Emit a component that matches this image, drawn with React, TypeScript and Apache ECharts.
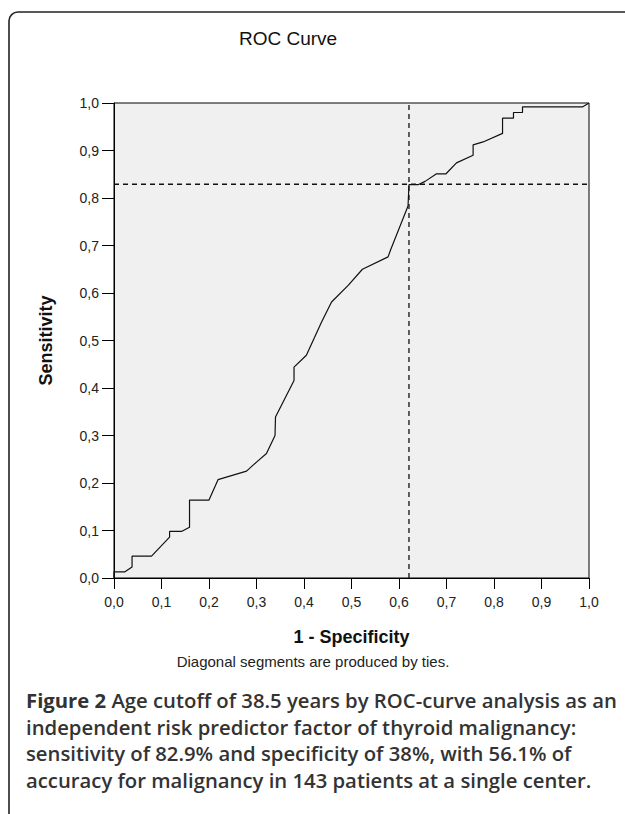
import React, { useEffect, useRef } from "react";
import * as echarts from "echarts";

// ROC curve points: [1 - specificity, sensitivity]
const fpr: number[] = [0, 0, 0.023, 0.038, 0.038, 0.079, 0.117, 0.117, 0.142, 0.159, 0.159, 0.2, 0.219, 0.279, 0.3, 0.321, 0.339, 0.34, 0.379, 0.379, 0.405, 0.437, 0.458, 0.493, 0.523, 0.577, 0.582, 0.619, 0.621, 0.64, 0.655, 0.679, 0.699, 0.721, 0.756, 0.756, 0.777, 0.818, 0.818, 0.841, 0.841, 0.86, 0.86, 0.987, 1.0];
const tpr: number[] = [0, 0.013, 0.013, 0.023, 0.046, 0.046, 0.086, 0.098, 0.098, 0.107, 0.164, 0.164, 0.207, 0.225, 0.244, 0.262, 0.3, 0.339, 0.416, 0.444, 0.469, 0.539, 0.581, 0.616, 0.65, 0.676, 0.69, 0.783, 0.828, 0.828, 0.835, 0.851, 0.851, 0.874, 0.89, 0.912, 0.918, 0.936, 0.968, 0.968, 0.98, 0.98, 0.992, 0.992, 1.0];

const cutoffX = 0.621;
const cutoffY = 0.829;

const titleText = "ROC Curve";
const xName = "1 - Specificity";
const yName = "Sensitivity";
const noteText = "Diagonal segments are produced by ties.";
const captionBold = "Figure 2";
const captionLines: string[] = [
  " Age cutoff of 38.5 years by ROC-curve analysis as an",
  "independent risk predictor factor of thyroid malignancy:",
  "sensitivity of 82.9% and specificity of 38%, with 56.1% of",
  "accuracy for malignancy in 143 patients at a single center.",
];

const fmt = (v: number) => v.toFixed(1).replace(".", ",");

export default function App() {
  const ref = useRef<HTMLDivElement>(null);
  useEffect(() => {
    if (!ref.current) return;
    const chart = echarts.init(ref.current, undefined, { renderer: "svg" });
    const curve = fpr.map((x, i) => [x, tpr[i]]);
    const captionTop = 700;
    const lineH = 26.7;
    const capFont = 20.3;
    const captionGraphics: any[] = captionLines.map((line, i) => ({
      type: "text",
      x: 26,
      y: captionTop + i * lineH,
      style: i === 0
        ? {
            text: "{b|" + captionBold + "}{n|" + line + "}",
            textVerticalAlign: "middle",
            rich: {
              b: { fontFamily: "Open Sans", fontSize: capFont, fontWeight: 700, fill: "#333" },
              n: { fontFamily: "Open Sans", fontSize: capFont, fontWeight: 600, fill: "#333" },
            },
          }
        : { text: line, fontFamily: "Open Sans", fontSize: capFont, fontWeight: 600, fill: "#333", textVerticalAlign: "middle" },
    }));
    chart.setOption({
      animation: false,
      backgroundColor: "#ffffff",
      grid: {
        left: 114,
        top: 103,
        width: 475,
        height: 475,
        show: true,
        backgroundColor: "#f0f0f0",
        borderColor: "#000",
        borderWidth: 1,
      },
      xAxis: {
        type: "value",
        min: 0,
        max: 1,
        interval: 0.1,
        name: xName,
        nameLocation: "middle",
        nameGap: 50,
        nameTextStyle: { fontFamily: "Liberation Sans", fontSize: 18, fontWeight: "bold", color: "#111" },
        axisLine: { lineStyle: { color: "#000", width: 1 } },
        axisTick: { length: 11, lineStyle: { color: "#000" } },
        axisLabel: { formatter: (v: number) => fmt(v), fontFamily: "Liberation Sans", fontSize: 14, color: "#222", margin: 17 },
        splitLine: { show: false },
      },
      yAxis: {
        type: "value",
        min: 0,
        max: 1,
        interval: 0.1,
        name: yName,
        nameLocation: "middle",
        nameGap: 59,
        nameRotate: 90,
        nameTextStyle: { fontFamily: "Liberation Sans", fontSize: 18, fontWeight: "bold", color: "#111" },
        axisLine: { lineStyle: { color: "#000", width: 1 } },
        axisTick: { length: 12, lineStyle: { color: "#000" } },
        axisLabel: { formatter: (v: number) => fmt(v), fontFamily: "Liberation Sans", fontSize: 14, color: "#222", margin: 15 },
        splitLine: { show: false },
      },
      series: [
        {
          type: "line",
          data: [[cutoffX, 0], [cutoffX, 1]],
          symbol: "none",
          lineStyle: { color: "#111", width: 1.3, type: [5, 4] },
          silent: true,
        },
        {
          type: "line",
          data: [[0, cutoffY], [1, cutoffY]],
          symbol: "none",
          lineStyle: { color: "#111", width: 1.3, type: [5, 4] },
          silent: true,
        },
        {
          type: "line",
          data: curve,
          symbol: "none",
          lineStyle: { color: "#111", width: 1.2 },
          silent: true,
        },
      ],
      graphic: [
        {
          type: "rect",
          shape: { x: 9, y: 12, width: 640, height: 830, r: [9, 0, 0, 0] },
          style: { fill: "none", stroke: "#222", lineWidth: 1.6 },
          silent: true,
        },
        {
          type: "text",
          x: 288,
          y: 38,
          style: {
            text: titleText,
            fontFamily: "Liberation Sans",
            fontSize: 19,
            fill: "#111",
            textAlign: "center",
            textVerticalAlign: "middle",
          },
        },
        {
          type: "text",
          x: 313,
          y: 661,
          style: {
            text: noteText,
            fontFamily: "Liberation Sans",
            fontSize: 15,
            fill: "#222",
            textAlign: "center",
            textVerticalAlign: "middle",
          },
        },
        ...captionGraphics,
      ],
    });
    return () => chart.dispose();
  }, []);
  return (
    <div
      ref={ref}
      style={{ position: "absolute", left: 0, top: 0, width: 625, height: 814 }}
    />
  );
}
